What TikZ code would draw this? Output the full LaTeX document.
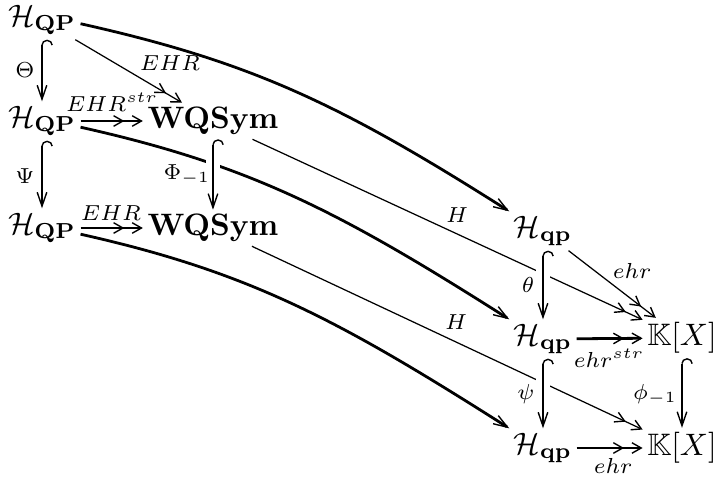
\documentclass[tikz,border=0pt]{standalone}
\usepackage{amsmath,amssymb}
\usetikzlibrary{arrows.meta}
\tikzset{
  obj/.style={inner sep=1.5pt, outer sep=0pt},
  lbl/.style={inner sep=0pt},
  heavy/.style={line width=0.9pt},
  fine/.style={line width=0.4pt},
  barb/.tip={Straight Barb[length=4.5pt,width=3.1pt,line width=0.45pt]},
  dbarb/.tip={Straight Barb[length=3pt,width=3.4pt,line width=0.45pt]},
  hookt/.tip={Hooks[right,width=7pt,length=1.75pt,line width=0.45pt]},
  onear/.style={-{barb}},
  epiar/.style={-{dbarb[sep=2.3pt]dbarb}},
  hookar/.style={{hookt}-{barb}},
  overw/.style={preaction={draw=white,line width=4.5pt,-}},
}
\begin{document}
\begin{tikzpicture}[x=0.3226pt,y=-0.3226pt]
\useasboundingbox (0,0) rectangle (713,479);
% objects
\node[obj,inner sep=0.6pt,outer sep=0.9pt] (A1) at (42,20)  {$\mathcal{H}_{\mathbf{QP}}$};
\node[obj] (A2) at (42,121) {$\mathcal{H}_{\mathbf{QP}}$};
\node[obj] (A3) at (42,228) {$\mathcal{H}_{\mathbf{QP}}$};
\node[obj] (B2) at (213,121) {$\mathbf{WQSym}$};
\node[obj] (B3) at (213,228) {$\mathbf{WQSym}$};
\node[obj] (C1) at (543,231) {$\mathcal{H}_{\mathbf{qp}}$};
\node[obj] (C2) at (543,339) {$\mathcal{H}_{\mathbf{qp}}$};
\node[obj] (C3) at (543,448) {$\mathcal{H}_{\mathbf{qp}}$};
\node[obj] (K2) at (682,338) {$\mathbb{K}[X]$};
\node[obj] (K3) at (682,448) {$\mathbb{K}[X]$};
% long curved maps
\draw[heavy,onear] ([yshift=-1.2pt]A1.east) .. controls +(170,38) and +(-170,-108) .. (C1.north west);
\draw[heavy,onear] ([yshift=-2pt]A2.east) .. controls +(170,38) and +(-170,-108) .. (C2.north west);
\draw[heavy,onear] ([yshift=-2pt]A3.east) .. controls +(170,38) and +(-170,-108) .. (C3.north west);
% thin maps
\draw[fine,epiar] (A1) -- (B2);
\draw[fine,epiar] (B2) -- (K2);
\draw[fine,epiar] (B3) -- (K3);
\draw[fine,epiar] (C1) -- (K2);
% vertical injections
\draw[heavy,hookar,overw] (A1) -- (A2);
\draw[heavy,hookar,overw] (A2) -- (A3);
\draw[heavy,hookar,overw] (B2) -- (B3);
\draw[heavy,hookar,overw] (C1) -- (C2);
\draw[heavy,hookar,overw] (C2) -- (C3);
\draw[heavy,hookar,overw] (K2) -- (K3);
% horizontal surjections
\draw[heavy,epiar] (A2) -- (B2);
\draw[heavy,epiar] (A3) -- (B3);
\draw[heavy,epiar] (C2) -- (K2);
\draw[heavy,epiar] (C3) -- (K3);
% labels
\node[lbl] (lTheta) at (25,70)  {$\scriptstyle\Theta$};
\node[lbl] (lPsi)   at (25,176) {$\scriptstyle\Psi$};
\node[lbl] (lPhi)   at (187,175) {$\scriptstyle\Phi_{-1}$};
\node[lbl] (lEHRa)  at (170,63) {$\scriptstyle EHR$};
\node[lbl] (lEHRs)  at (112,102) {$\scriptstyle EHR^{str}$};
\node[lbl] (lEHRb)  at (111,213) {$\scriptstyle EHR$};
\node[lbl] (lHa)    at (457,215) {$\scriptstyle H$};
\node[lbl] (lHb)    at (456,322) {$\scriptstyle H$};
\node[lbl] (ltheta) at (528,285) {$\scriptstyle\theta$};
\node[lbl] (lpsi)   at (526,394) {$\scriptstyle\psi$};
\node[lbl] (lphi)   at (655,395) {$\scriptstyle\phi_{-1}$};
\node[lbl] (lehra)  at (632,271) {$\scriptstyle ehr$};
\node[lbl] (lehrs)  at (609,358) {$\scriptstyle ehr^{str}$};
\node[lbl] (lehrb)  at (613,466) {$\scriptstyle ehr$};
\end{tikzpicture}
\end{document}
